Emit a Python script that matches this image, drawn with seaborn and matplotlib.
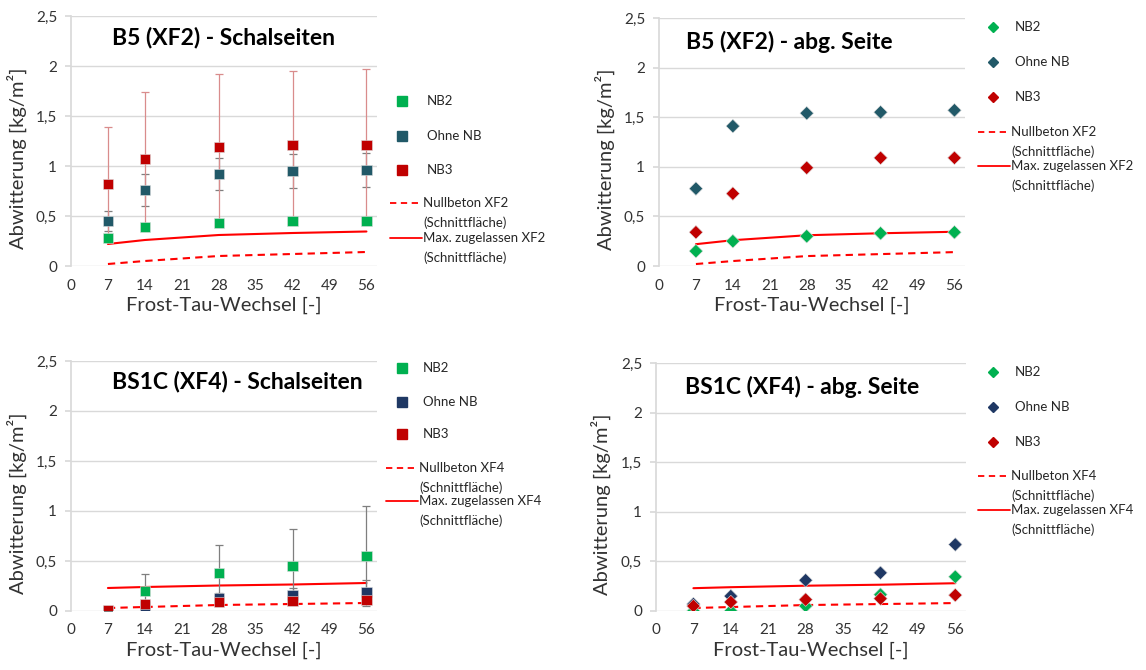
import matplotlib
matplotlib.use("Agg")
import matplotlib.pyplot as plt
from matplotlib.lines import Line2D
from matplotlib.ticker import FuncFormatter
import pandas as pd
import seaborn as sns

# Frost-Tau-Wechsel
ftw = [7, 14, 28, 42, 56]
series = ["NB2", "Ohne NB", "NB3"]

# B5 (XF2) - Schalseiten (Mittelwert, Standardabweichung)
b5_schal_nb2 = [0.28, 0.39, 0.43, 0.45, 0.45]
b5_schal_ohne = [0.45, 0.76, 0.92, 0.95, 0.96]
b5_schal_nb3 = [0.82, 1.07, 1.19, 1.21, 1.21]
b5_schal_nb2_sd = [0.0, 0.0, 0.0, 0.0, 0.0]
b5_schal_ohne_sd = [0.10, 0.16, 0.16, 0.17, 0.17]
b5_schal_nb3_sd = [0.57, 0.67, 0.73, 0.74, 0.76]

# B5 (XF2) - abg. Seite
b5_abg_nb2 = [0.15, 0.25, 0.30, 0.33, 0.34]
b5_abg_ohne = [0.78, 1.41, 1.54, 1.55, 1.57]
b5_abg_nb3 = [0.34, 0.73, 0.99, 1.09, 1.09]

# BS1C (XF4) - Schalseiten
bs1c_schal_nb2 = [0.0, 0.20, 0.38, 0.45, 0.55]
bs1c_schal_ohne = [0.0, 0.05, 0.13, 0.16, 0.19]
bs1c_schal_nb3 = [0.01, 0.07, 0.09, 0.10, 0.11]
bs1c_schal_nb2_sd = [0.0, 0.17, 0.28, 0.37, 0.50]
bs1c_schal_ohne_sd = [0.0, 0.02, 0.05, 0.07, 0.12]
bs1c_schal_nb3_sd = [0.0, 0.0, 0.0, 0.0, 0.0]

# BS1C (XF4) - abg. Seite
bs1c_abg_nb2 = [0.0, 0.0, 0.05, 0.165, 0.345]
bs1c_abg_ohne = [0.07, 0.15, 0.31, 0.385, 0.67]
bs1c_abg_nb3 = [0.05, 0.09, 0.115, 0.125, 0.16]

# Grenzlinien (Schnittfläche)
xf2_null = [0.02, 0.05, 0.10, 0.12, 0.14]
xf2_max = [0.22, 0.26, 0.31, 0.33, 0.345]
xf4_null = [0.03, 0.04, 0.06, 0.07, 0.08]
xf4_max = [0.23, 0.24, 0.255, 0.265, 0.28]

green = "#00B050"
teal = "#215968"
navy = "#1F3864"
red = "#C00000"
limit_red = "#FF0000"
txt = "#333333"

sns.set_theme(style="white")
plt.rcParams["font.family"] = ["Lato", "DejaVu Sans"]

W, H = 1146, 670
fig = plt.figure(figsize=(W / 100, H / 100), dpi=100)


def ax_at(left, top, right, bottom):
    return fig.add_axes([left / W, 1 - bottom / H, (right - left) / W, (bottom - top) / H])


def key(x_mark, x_text, y_rows, marker, colors, msize, xf, line_x):
    # Legende rechts neben dem Diagramm
    for (y, c, lab) in zip(y_rows[:3], colors, series):
        fig.add_artist(Line2D([x_mark / W], [1 - y / H], marker=marker, ms=msize,
                              color=c, mec=c, ls="none"))
        fig.text(x_text / W, 1 - y / H, lab, fontsize=9.5, va="center", color="#262626")
    for y, ls, lab in [(y_rows[3], "--", f"Nullbeton {xf}"), (y_rows[4], "-", f"Max. zugelassen {xf}")]:
        ln = Line2D([line_x[0] / W, line_x[1] / W], [1 - y / H, 1 - y / H], color=limit_red, lw=1.3)
        if ls == "--":
            ln.set_dashes((3.5, 2.5))
        fig.add_artist(ln)
        fig.text(line_x[1] / W + 1 / W, 1 - y / H, lab, fontsize=9.5, va="center", color="#262626")
        fig.text(line_x[1] / W + 1 / W, 1 - (y + 20) / H, "(Schnittfläche)", fontsize=9.5,
                 va="center", color="#262626")


panels = [
    dict(box=(71, 16, 377, 266), title="B5 (XF2) - Schalseiten", tpos=(0.5, 0.916),
         vals=[b5_schal_nb2, b5_schal_ohne, b5_schal_nb3],
         sds=[b5_schal_nb2_sd, b5_schal_ohne_sd, b5_schal_nb3_sd],
         ecol=["#7F7F7F", "#7F7F7F", "#D98C8C"],
         colors=[green, teal, red], marker="s", null=xf2_null, mx=xf2_max, xf="XF2",
         key=(402, 427, [101, 136, 170, 203, 238], (390, 422))),
    dict(box=(659, 18, 965, 266), title="B5 (XF2) - abg. Seite", tpos=(0.425, 0.903),
         vals=[b5_abg_nb2, b5_abg_ohne, b5_abg_nb3], sds=None,
         colors=[green, teal, red], marker="D", null=xf2_null, mx=xf2_max, xf="XF2",
         key=(993, 1015, [27, 62, 97, 132, 166], (978, 1010))),
    dict(box=(71, 361, 377, 611), title="BS1C (XF4) - Schalseiten", tpos=(0.542, 0.916),
         vals=[bs1c_schal_nb2, bs1c_schal_ohne, bs1c_schal_nb3],
         sds=[bs1c_schal_nb2_sd, bs1c_schal_ohne_sd, bs1c_schal_nb3_sd],
         ecol=["#7F7F7F", "#7F7F7F", "#7F7F7F"],
         colors=[green, navy, red], marker="s", null=xf4_null, mx=xf4_max, xf="XF4",
         key=(402, 423, [368, 402, 434, 468, 501], (386, 418))),
    dict(box=(656, 363, 966, 611), title="BS1C (XF4) - abg. Seite", tpos=(0.47, 0.903),
         vals=[bs1c_abg_nb2, bs1c_abg_ohne, bs1c_abg_nb3], sds=None,
         colors=[green, navy, red], marker="D", null=xf4_null, mx=xf4_max, xf="XF4",
         key=(993, 1015, [372, 407, 442, 476, 510], (978, 1010))),
]

for p in panels:
    ax = ax_at(*p["box"])
    df = pd.concat([pd.DataFrame({"ftw": ftw, "wert": v, "serie": s})
                    for v, s in zip(p["vals"], series)], ignore_index=True)
    lim = pd.DataFrame({"ftw": ftw, "null": p["null"], "max": p["mx"]})

    sns.lineplot(data=lim, x="ftw", y="null", ax=ax, color=limit_red, lw=1.5, zorder=2)
    ax.lines[-1].set_dashes((3.5, 2.5))
    sns.lineplot(data=lim, x="ftw", y="max", ax=ax, color=limit_red, lw=1.5, zorder=2)

    if p["sds"] is not None:
        for v, sd, ec in zip(p["vals"], p["sds"], p["ecol"]):
            ax.errorbar(ftw, v, yerr=sd, fmt="none", ecolor=ec, elinewidth=0.9,
                        capsize=3, capthick=0.9, zorder=3)

    ms = 55 if p["marker"] == "s" else 48
    sns.scatterplot(data=df, x="ftw", y="wert", hue="serie", palette=dict(zip(series, p["colors"])),
                    marker=p["marker"], s=ms, linewidth=0.4, edgecolor="#DDDDDD",
                    legend=False, ax=ax, zorder=4)

    ax.set_xlim(0, 58)
    ax.set_ylim(0, 2.5)
    ax.set_xticks(range(0, 57, 7))
    ax.set_yticks([0, 0.5, 1, 1.5, 2, 2.5])
    ax.yaxis.set_major_formatter(FuncFormatter(lambda v, _: f"{v:g}".replace(".", ",")))
    ax.grid(axis="y", color="#D9D9D9", lw=1)
    ax.grid(axis="x", visible=False)
    for sp in ["top", "right", "bottom"]:
        ax.spines[sp].set_visible(False)
    ax.spines["left"].set_color("#D9D9D9")
    ax.tick_params(axis="y", length=4, color="#D9D9D9", pad=6, labelsize=11, labelcolor=txt, left=True)
    ax.tick_params(axis="x", length=0, pad=9, labelsize=11, labelcolor=txt)
    ax.set_xlabel("Frost-Tau-Wechsel [-]", fontsize=14.5, color=txt, labelpad=3)
    ax.set_ylabel("Abwitterung [kg/m²]", fontsize=14.5, color=txt)
    ax.yaxis.set_label_coords(-0.144, 0.43)
    ax.text(p["tpos"][0], p["tpos"][1], p["title"], transform=ax.transAxes, ha="center", va="center",
            fontsize=16.5, fontweight="bold", color="#000000")

    kx, tx, rows, lx = p["key"]
    key(kx, tx, rows, p["marker"], p["colors"], 6.5 if p["marker"] == "s" else 5.5, p["xf"], lx)

fig.savefig("out.png", dpi=100, facecolor="white")
